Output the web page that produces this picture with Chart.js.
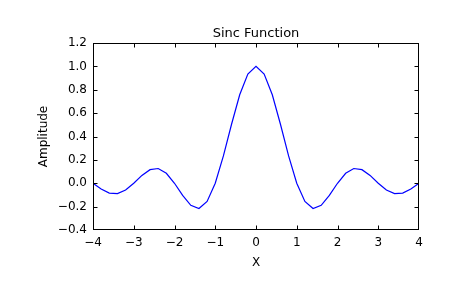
<!DOCTYPE html>
<html>
<head>
<meta charset="utf-8">
<script src="https://cdn.jsdelivr.net/npm/chart.js@4"></script>
<style>
  html, body { margin: 0; padding: 0; background: #fff; }
  #wrap { width: 465px; height: 288px; }
</style>
</head>
<body>
<div id="wrap"><canvas id="sincChart" width="465" height="288"></canvas></div>
<script>
const xValues = [-4.0, -3.8, -3.6, -3.4, -3.2, -3.0, -2.8, -2.6, -2.4, -2.2,
                 -2.0, -1.8, -1.6, -1.4, -1.2, -1.0, -0.8, -0.6, -0.4, -0.2,
                  0.0,  0.2,  0.4,  0.6,  0.8,  1.0,  1.2,  1.4,  1.6,  1.8,
                  2.0,  2.2,  2.4,  2.6,  2.8,  3.0,  3.2,  3.4,  3.6,  3.8, 4.0];
const amplitude = [0.000, -0.049, -0.084, -0.089, -0.058, 0.000, 0.067, 0.116, 0.126, 0.085,
                   0.000, -0.104, -0.189, -0.216, -0.156, 0.000, 0.234, 0.505, 0.757, 0.935,
                   1.000, 0.935, 0.757, 0.505, 0.234, 0.000, -0.156, -0.216, -0.189, -0.104,
                   0.000, 0.085, 0.126, 0.116, 0.067, 0.000, -0.058, -0.089, -0.084, -0.049, 0.000];
const xTicks = [-4, -3, -2, -1, 0, 1, 2, 3, 4];
const yTicks = [-0.4, -0.2, 0.0, 0.2, 0.4, 0.6, 0.8, 1.0, 1.2];

const titleText = 'Sinc Function';
const xLabel = 'X';
const yLabel = 'Amplitude';
const FONT = '"DejaVu Sans", sans-serif';

function fmtNum(v, digits) {
    const s = Math.abs(v).toFixed(digits);
    return (v < -1e-9 ? '\u2212' : '') + s;
}

// matplotlib-like frame: box, inward ticks on all sides, title and axis labels
const framePlugin = {
    id: 'frame',
    afterDraw(chart) {
        const ctx = chart.ctx;
        const a = chart.chartArea;
        const xs = chart.scales.x;
        const ys = chart.scales.y;
        ctx.save();
        ctx.strokeStyle = '#000';
        ctx.lineWidth = 1;
        const L = Math.round(a.left) + 0.5, R = Math.round(a.right) - 0.5;
        const T = Math.round(a.top) + 0.5, B = Math.round(a.bottom) - 0.5;
        const clamp = (v, lo, hi) => Math.min(hi, Math.max(lo, v));
        ctx.beginPath();
        xTicks.forEach(t => {
            const px = clamp(Math.round(xs.getPixelForValue(t)) + 0.5, L, R);
            ctx.moveTo(px, B); ctx.lineTo(px, B - 4);
            ctx.moveTo(px, T); ctx.lineTo(px, T + 4);
        });
        yTicks.forEach(t => {
            const py = clamp(Math.round(ys.getPixelForValue(t)) + 0.5, T, B);
            ctx.moveTo(L, py); ctx.lineTo(L + 4, py);
            ctx.moveTo(R, py); ctx.lineTo(R - 4, py);
        });
        ctx.stroke();
        ctx.strokeRect(L, T, R - L, B - T);

        ctx.fillStyle = '#000';
        ctx.textAlign = 'center';
        ctx.textBaseline = 'alphabetic';
        ctx.font = '13px ' + FONT;
        ctx.fillText(titleText, (a.left + a.right) / 2, 37);
        ctx.font = '12px ' + FONT;
        ctx.fillText(xLabel, (a.left + a.right) / 2, 266);
        ctx.translate(47, (a.top + a.bottom) / 2);
        ctx.rotate(-Math.PI / 2);
        ctx.fillText(yLabel, 0, 0);
        ctx.restore();
    }
};

new Chart(document.getElementById('sincChart').getContext('2d'), {
    type: 'scatter',
    data: {
        datasets: [{
            data: xValues.map((x, i) => ({ x: x, y: amplitude[i] })),
            showLine: true,
            borderColor: '#0000ff',
            borderWidth: 1.2,
            pointRadius: 0,
            tension: 0,
            fill: false
        }]
    },
    options: {
        responsive: false,
        animation: false,
        layout: { padding: { top: 43, right: 46, left: 0, bottom: 0 } },
        plugins: { legend: { display: false }, tooltip: { enabled: false } },
        scales: {
            x: {
                type: 'linear', min: -4, max: 4,
                afterBuildTicks: s => { s.ticks = xTicks.map(v => ({ value: v })); },
                afterFit: s => { s.height = 58; },
                grid: { display: false, drawTicks: false },
                border: { display: false },
                ticks: {
                    color: '#000', padding: 6,
                    font: { family: FONT, size: 12 },
                    callback: v => fmtNum(v, 0)
                }
            },
            y: {
                type: 'linear', min: -0.4, max: 1.2,
                afterBuildTicks: s => { s.ticks = yTicks.map(v => ({ value: v })); },
                afterFit: s => { s.width = 93; },
                grid: { display: false, drawTicks: false },
                border: { display: false },
                ticks: {
                    color: '#000', padding: 6,
                    font: { family: FONT, size: 12 },
                    callback: v => fmtNum(v, 1)
                }
            }
        }
    },
    plugins: [framePlugin]
});
</script>
</body>
</html>
